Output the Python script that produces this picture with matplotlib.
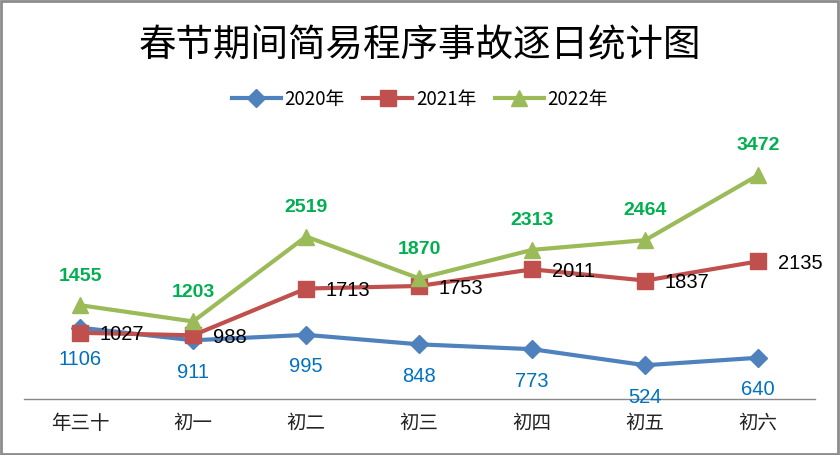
import matplotlib
matplotlib.use('Agg')
import matplotlib.pyplot as plt
from matplotlib.patches import Rectangle

plt.rcParams['font.family'] = ['Noto Sans CJK SC', 'DejaVu Sans']

# ── data ──────────────────────────────────────────────────────────────────
days = ['年三十', '初一', '初二', '初三', '初四', '初五', '初六']
y2020 = [1106, 911, 995, 848, 773, 524, 640]
y2021 = [1027, 988, 1713, 1753, 2011, 1837, 2135]
y2022 = [1455, 1203, 2519, 1870, 2313, 2464, 3472]

fig = plt.figure(figsize=(8.4, 4.55), dpi=100)
ax = fig.add_axes([0.028, 0.123, 0.942, 0.567])

x = list(range(len(days)))
ax.plot(x, y2020, color='#4F81BD', lw=3, marker='D', ms=9, label='2020年', zorder=3)
ax.plot(x, y2021, color='#C0504D', lw=3, marker='s', ms=11, label='2021年', zorder=4)
ax.plot(x, y2022, color='#9BBB59', lw=3, marker='^', ms=12, label='2022年', zorder=5)

# data labels
num_font = ['Liberation Sans', 'DejaVu Sans']
for i, v in enumerate(y2020):
    ax.annotate(str(v), (i, v), xytext=(0, -23), textcoords='offset points',
                ha='center', va='center', fontsize=14.5, color='#0070C0',
                family=num_font, zorder=10)
for i, v in enumerate(y2021):
    ax.annotate(str(v), (i, v), xytext=(14, -1.5), textcoords='offset points',
                ha='left', va='center', fontsize=14.5, color='black',
                family=num_font, zorder=10)
for i, v in enumerate(y2022):
    ax.annotate(str(v), (i, v), xytext=(0, 21), textcoords='offset points',
                ha='center', va='center', fontsize=14, color='#00B050',
                fontweight='bold', family=num_font, zorder=10)

ax.set_xlim(-0.5, 6.5)
ax.set_ylim(0, 4000)
ax.set_xticks(x)
ax.set_xticklabels(days, fontsize=14, color='#222222')
ax.tick_params(axis='x', length=0, pad=10)
ax.set_yticks([])
for s in ['top', 'right', 'left']:
    ax.spines[s].set_visible(False)
ax.spines['bottom'].set_color('#888888')
ax.spines['bottom'].set_linewidth(1)

fig.text(0.5, 0.9, '春节期间简易程序事故逐日统计图', ha='center', va='center',
         fontsize=27, color='black')

fig.legend(loc='center', bbox_to_anchor=(0.5, 0.782), ncol=3, frameon=False,
           fontsize=13.5, handlelength=2.6, columnspacing=1.0, handletextpad=0.2)

# outer border
fig.patches.append(Rectangle((0.001, 0.002), 0.997, 0.995, transform=fig.transFigure,
                             fill=False, edgecolor='#8C8C8C', linewidth=2))

fig.savefig('out.png', dpi=100)
